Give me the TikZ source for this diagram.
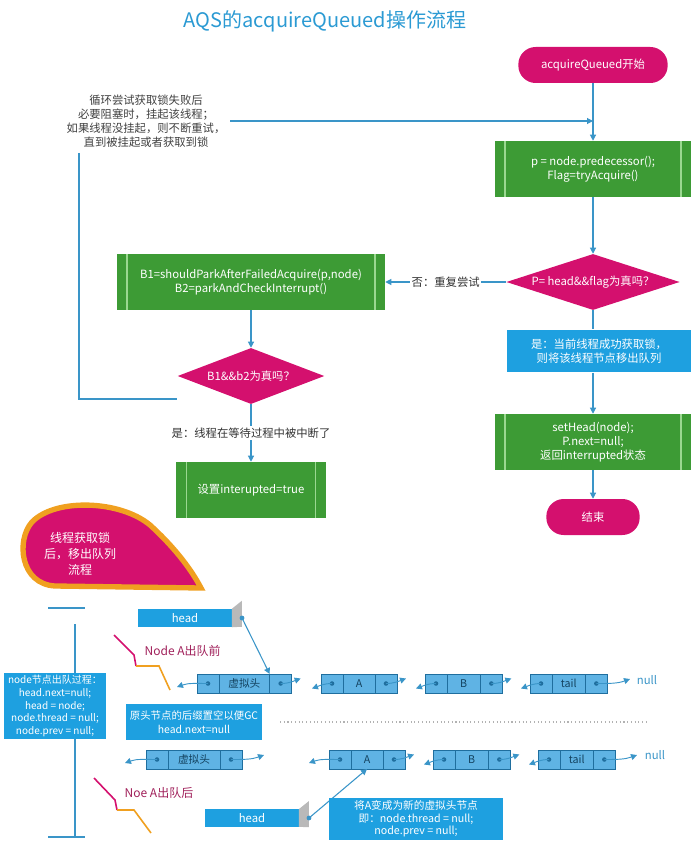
\documentclass[tikz,border=0pt]{standalone}
\usepackage{fontspec}
\setmainfont{Noto Sans CJK SC}
\usetikzlibrary{shapes.geometric,arrows.meta}
\definecolor{grn}{HTML}{3D9B35}
\definecolor{lgrn}{HTML}{9AD890}
\definecolor{mag}{HTML}{D4106E}
\definecolor{blu}{HTML}{1EA0E0}
\definecolor{ttl}{HTML}{2B9AD3}
\definecolor{linec}{HTML}{3A95C8}
\definecolor{cellc}{HTML}{5FB3E4}
\definecolor{celld}{HTML}{1F6E9E}
\definecolor{orng}{HTML}{F0A020}
\definecolor{dred}{HTML}{A0205A}
\tikzset{
 arr/.style={draw=linec, line width=0.8pt, -{Triangle[length=4.5pt,width=4.5pt]}},
 ln/.style={draw=linec, line width=0.8pt},
 lk/.style={draw=linec, line width=0.7pt, -{Triangle[length=4.5pt,width=4.5pt]}},
 txt/.style={font=\fontsize{8.5}{10.5}\selectfont, align=center},
 gbox/.style={txt, fill=grn, text=white, inner sep=0pt,
   path picture={\draw[lgrn,line width=0.8pt]
     ([xshift=7.5pt]path picture bounding box.north west) -- ([xshift=7.5pt]path picture bounding box.south west)
     ([xshift=-7.5pt]path picture bounding box.north east) -- ([xshift=-7.5pt]path picture bounding box.south east);}},
 pill/.style={txt, fill=mag, text=white, rounded corners=13pt, inner sep=0pt},
 dia/.style={txt, diamond, fill=mag, text=white, inner sep=0pt, aspect=3},
 bbox/.style={txt, fill=blu, text=white, inner sep=0pt},
 cell/.style={draw=celld, fill=cellc, minimum height=14.25pt, inner sep=0pt, outer sep=0pt, line width=0.6pt, font=\fontsize{8}{9}\selectfont, text=celld!60!black},
 lab/.style={txt, fill=white, inner sep=1pt},
 zig/.style={line width=1.2pt},
 nul/.style={font=\fontsize{8.5}{10}\selectfont, text=linec},
 sidep/.style={fill=gray!55},
}
\newcommand\llnode[5]{%
 \node[cell, minimum width=16.5pt, anchor=north west] (#1l) at (#2,#3) {};
 \node[cell, minimum width=#4, anchor=north west] (#1m) at (#1l.north east) {#5};
 \node[cell, minimum width=16.5pt, anchor=north west] (#1r) at (#1m.north east) {};
 \fill[celld] (#1l.center) circle (1.7pt) (#1r.center) circle (1.7pt);}
\newcommand\fwd[2]{\draw[lk] (#1r.center) to[out=0,in=200] ([shift={(9,-5)}]#1r.east); \draw[lk] (#2l.center) to[out=180,in=20] ([shift={(-9,5)}]#2l.west);}
\begin{document}
\begin{tikzpicture}[x=0.75pt,y=-0.75pt]
\useasboundingbox (0,0) rectangle (693,845);
\node[font=\fontsize{15}{17}\selectfont, text=ttl] (title) at (325,21) {AQS的acquireQueued操作流程};
\node[pill, minimum width=112pt, minimum height=27pt] (start) at (593,65) {acquireQueued开始};
\node[gbox, minimum width=147pt, minimum height=42pt] (b1) at (593,169) {p = node.predecessor();\\Flag=tryAcquire()};
\node[dia, minimum width=130pt, minimum height=42pt] (d1) at (593,282) {P= head\&\&flag为真吗？};
\node[gbox, minimum width=201pt, minimum height=42pt] (bB) at (251,282) {B1=shouldParkAfterFailedAcquire(p,node)\\B2=parkAndCheckInterrupt()};
\node[bbox, minimum width=138pt, minimum height=32pt] (yes1) at (599,351) {是：当前线程成功获取锁，\\则将该线程节点移出队列};
\node[gbox, minimum width=147pt, minimum height=42pt] (b3) at (593,442) {setHead(node);\\P.next=null;\\返回interrupted状态};
\node[pill, minimum width=70pt, minimum height=27pt] (end) at (593,517) {结束};
\node[dia, minimum width=110pt, minimum height=42pt] (d2) at (251,376) {B1\&\&b2为真吗？};
\node[gbox, minimum width=112pt, minimum height=42pt] (bi) at (251,490) {设置interupted=true};
\node[txt, text=black!75] (loopt) at (146,121) {循环尝试获取锁失败后\\必要阻塞时，挂起该线程；\\如果线程没挂起，则不断重试，\\直到被挂起或者获取到锁};
\coordinate (m1) at (593,121);
\coordinate (c1) at (79,153);
\coordinate (c2) at (79,399);
\draw[arr] (start) -- (b1);
\draw[arr] (loopt.east |- m1) -- (m1);
\draw[ln] (c1) -- (c2) -- (d2.west |- c2);
\draw[arr] (b1) -- (d1);
\draw[arr] (d1) -- node[lab, text=black!80] {否：重复尝试} (bB);
\draw[ln] (d1) -- (yes1.north -| d1);
\draw[arr] (yes1.south -| b3) -- (b3);
\draw[arr] (b3) -- (end);
\draw[arr] (bB) -- (d2);
\draw[arr] (d2) -- node[lab, text=black!80, pos=0.5] {是：线程在等待过程中被中断了} (bi);
% teardrop
\draw[orng, line width=4pt, fill=mag] (201,588) -- (55,586) .. controls (20,584) and (16,540) .. (32,522) .. controls (55,498) and (120,500) .. (150,525) .. controls (172,545) and (190,567) .. (201,588) -- cycle;
\node[txt, text=white, font=\fontsize{9}{12}\selectfont] (tear) at (80,554) {线程获取锁\\后，移出队列\\流程};
% left bracket
\coordinate (t1) at (48,608); \coordinate (t2) at (85,608);
\coordinate (v1) at (75,624); \coordinate (v2) at (75,838);
\coordinate (u1) at (48,837); \coordinate (u2) at (85,837);
\draw[ln] (t1) -- (t2); \draw[ln] (v1) -- (v2); \draw[ln] (u1) -- (u2);
\node[bbox, font=\fontsize{7.5}{9.5}\selectfont, minimum width=77pt, minimum height=50pt] (deq) at (55,706) {node节点出队过程：\\head.next=null;\\head = node;\\node.thread = null;\\node.prev = null;};
% zigzags
\draw[zig, mag] (114,635) -- (134,655) -- (136,666);
\draw[zig, orng] (136,666) -- (159,666) -- (170,690);
\node[font=\fontsize{9}{11}\selectfont, text=dred, anchor=west] (lblA) at (140,651) {Node A出队前};
\draw[zig, mag] (94,778) -- (115,800) -- (117,810);
\draw[zig, orng] (117,810) -- (134,810) -- (151,833);
\node[font=\fontsize{9}{11}\selectfont, text=dred, anchor=west] (lblB) at (120,793) {Noe A出队后};
% row 1
\node[bbox, minimum width=70pt, minimum height=13.5pt] (h1) at (185,618) {head};
\fill[sidep] (h1.north east) -- ++(10,-8) -- ++(0,26) -- (h1.south east) -- cycle;
\coordinate (h1d) at (242,618);
\fill[linec] (h1d) circle (1.8pt);
\llnode{p}{197}{674}{38pt}{虚拟头}
\llnode{a}{321}{674}{24pt}{A}
\llnode{b}{425}{674}{25pt}{B}
\llnode{t}{530}{674}{25pt}{tail}
\draw[arr] (h1d) -- (pm.north east);
\fwd{p}{a} \fwd{a}{b} \fwd{b}{t}
\coordinate (p0) at (177,687); \draw[lk] (pl.center) to[out=180,in=20] (p0);
\coordinate (tn) at (630,679); \draw[lk] (tr.center) to[out=0,in=200] (tn);
\node[nul] (null1) at (647,680) {null};
% middle
\node[bbox, font=\fontsize{7.8}{10}\selectfont, minimum width=102pt, minimum height=27pt] (gc) at (194,722) {原头节点的后缀置空以便GC\\head.next=null};
\coordinate (dl1) at (280,722); \coordinate (dl2) at (649,722);
\draw[gray!60, dotted, line width=0.8pt] (dl1) -- (dl2);
% row 2
\llnode{q}{146}{750}{39pt}{虚拟头}
\llnode{x}{329}{750}{24pt}{A}
\llnode{y}{433}{750}{25pt}{B}
\llnode{z}{538}{750}{25pt}{tail}
\coordinate (q0) at (125,763); \draw[lk] (ql.center) to[out=180,in=20] (q0);
\coordinate (q1) at (264,755); \draw[lk] (qr.center) to[out=0,in=200] (q1);
\coordinate (x0) at (309,763); \draw[lk] (xl.center) to[out=180,in=20] (x0);
\fwd{x}{y} \fwd{y}{z}
\coordinate (zn) at (637,755); \draw[lk] (zr.center) to[out=0,in=200] (zn);
\node[nul] (null2) at (655,755) {null};
\node[bbox, minimum width=70pt, minimum height=13pt] (h2) at (252,818) {head};
\fill[sidep] (h2.north east) -- ++(10,-8) -- ++(0,26) -- (h2.south east) -- cycle;
\coordinate (h2d) at (309,818); \fill[linec] (h2d) circle (1.8pt);
\draw[arr] (h2d) -- (xm.south);
\node[bbox, font=\fontsize{8}{9.5}\selectfont, minimum width=131pt, minimum height=32pt] (nh) at (416,819) {将A变成为新的虚拟头节点\\即：node.thread = null;\\node.prev = null;};
\end{tikzpicture}
\end{document}
